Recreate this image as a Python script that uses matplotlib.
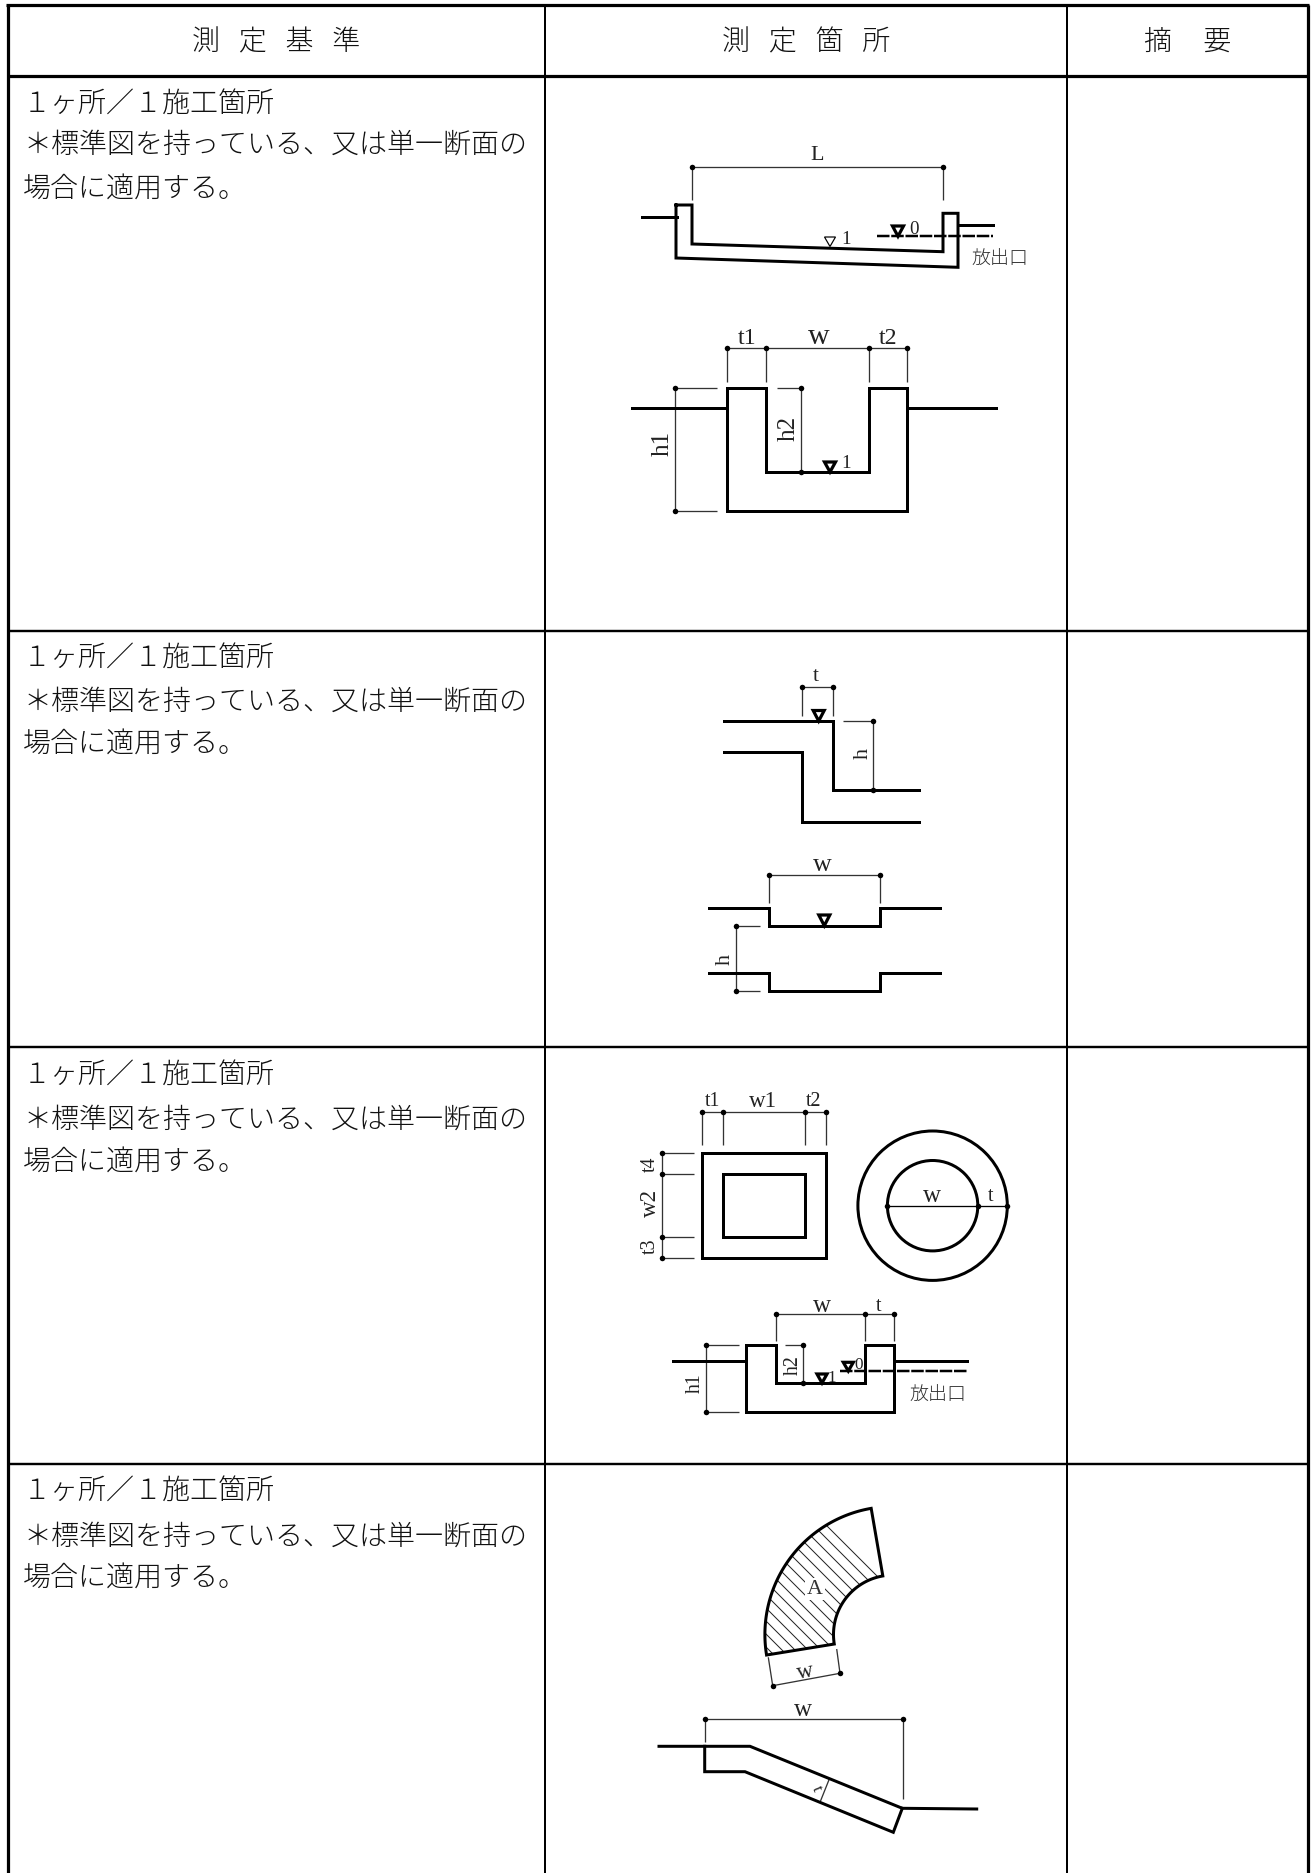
import numpy as np
import matplotlib
matplotlib.use("Agg")
import matplotlib.pyplot as plt
from matplotlib.patches import Polygon, Circle

W, H = 1311, 1874
CJK = ['Noto Sans CJK JP', 'DejaVu Sans']
SERIF = 'Liberation Serif'
PX = 0.72

col_x = [7.5, 545, 1067, 1307.5]
row_y = [5.5, 76.5, 632, 1048, 1464.5]
headers = ['測   定   基   準', '測   定   箇   所', '摘     要']
body_lines = ['１ヶ所／１施工箇所', '＊標準図を持っている、又は単一断面の', '場合に適用する。']
body_y = [[104, 145, 188.5], [658, 702, 744], [1074.5, 1119.5, 1161.5], [1491, 1536.5, 1577.5]]

fig = plt.figure(figsize=(W / 100, H / 100), dpi=100, facecolor='white')
ax = fig.add_axes([0, 0, 1, 1])
ax.set_xlim(0, W)
ax.set_ylim(H, 0)
ax.axis('off')


def heavy(xs, ys, lw=3.0, closed=False, **kw):
    xs, ys = list(xs), list(ys)
    if closed:
        xs.append(xs[0]); ys.append(ys[0])
    ax.plot(xs, ys, color='black', lw=lw * PX, solid_joinstyle='miter',
            solid_capstyle='projecting', zorder=3, **kw)


def thin(x0, y0, x1, y1, lw=1.3, color='#333333'):
    ax.plot([x0, x1], [y0, y1], color=color, lw=lw * PX, solid_capstyle='butt', zorder=2)


def dots(pts):
    ax.plot([p[0] for p in pts], [p[1] for p in pts], 'o', color='black', ms=5.5 * PX, mew=0, zorder=4)


def latin(x, y, s, size=18, rot=0, **kw):
    ax.text(x, y, s, family=SERIF, fontsize=size * PX, rotation=rot, ha='center', va='center',
            color='#222222', zorder=5, **kw)


def cjk(x, y, s, size, ha='center', color='#111111'):
    ax.text(x, y, s, family=CJK, fontsize=size * PX, ha=ha, va='center', color=color,
            fontweight='light', zorder=5)


def tri(x, top, apex, hw=6.5, lw=3.0):
    ax.add_patch(Polygon([(x - hw, top), (x + hw, top), (x, apex)], closed=True, fc='white',
                         ec='black', lw=lw * PX, zorder=4))


def dash_line(x0, x1, y, lw=2.5):
    ax.plot([x0, x1], [y, y], color='black', lw=lw * PX, ls=(0, (5, 0.7)), zorder=3)


# ---------- table ----------
ax.plot([col_x[0], col_x[0]], [row_y[0], H], color='black', lw=3.2 * PX, zorder=1, solid_capstyle='butt')
ax.plot([col_x[-1], col_x[-1]], [row_y[0], H], color='black', lw=3.2 * PX, zorder=1, solid_capstyle='butt')
for x in col_x[1:-1]:
    ax.plot([x, x], [row_y[0], H], color='black', lw=2.0 * PX, zorder=1, solid_capstyle='butt')
ax.plot([col_x[0] - 1.6, col_x[-1] + 1.6], [row_y[0], row_y[0]], color='black', lw=3.2 * PX, zorder=1, solid_capstyle='butt')
ax.plot([col_x[0], col_x[-1]], [row_y[1], row_y[1]], color='black', lw=3.2 * PX, zorder=1, solid_capstyle='butt')
for y in row_y[2:]:
    ax.plot([col_x[0], col_x[-1]], [y, y], color='black', lw=2.4 * PX, zorder=1, solid_capstyle='butt')

for i, h in enumerate(headers):
    cjk((col_x[i] + col_x[i + 1]) / 2, (row_y[0] + row_y[1]) / 2 + 1.5, h, 28)
for ys in body_y:
    for s, y in zip(body_lines, ys):
        cjk(23, y, s, 28, ha='left')

# ---------- drawing 1a ----------
heavy([676, 692, 692, 943, 943, 958, 958, 676], [206, 206, 245, 252.7, 214.3, 214.3, 268.3, 259], closed=True)
heavy([642, 677], [218, 218]); heavy([958, 993], [226.3, 226.3])
dash_line(877, 993, 237.3)
thin(691.7, 167.7, 943, 167.7); thin(691.7, 167.7, 691.7, 201); thin(943, 167.7, 943, 201)
dots([(691.7, 167.7), (943, 167.7)])
latin(817, 155, 'L', 22)
tri(898, 227, 237.3, 5.5, 3.2); latin(914, 229, '0', 19)
tri(830, 238, 247.5, 5.5, 1.2); latin(846, 239, '1', 19)
cjk(1000, 259, '放出口', 19, color='#333333')

# ---------- drawing 1b ----------
heavy([727, 765.7, 765.7, 869.3, 869.3, 907.3, 907.3, 727], [389, 389, 473.3, 473.3, 389, 389, 511.7, 511.7], closed=True)
heavy([632.3, 727], [409.3, 409.3]); heavy([907.3, 995.7], [409.3, 409.3])
for x in (727.3, 765.7, 869.3, 907.3):
    thin(x, 348.7, x, 383)
thin(727.3, 348.7, 907.3, 348.7)
dots([(727.3, 348.7), (765.7, 348.7), (869.3, 348.7), (907.3, 348.7)])
latin(746.7, 338, 't1', 24); latin(819, 337, 'w', 30); latin(888, 338, 't2', 24)
thin(674.7, 389, 674.7, 511.7); thin(674.7, 389, 717.3, 389); thin(674.7, 511.7, 717.3, 511.7)
dots([(674.7, 389), (674.7, 511.7)])
latin(662.3, 443, 'h1', 25, rot=90)
thin(801, 389, 801, 473.3); thin(777.3, 389, 801, 389)
dots([(801, 389), (801, 473.3)])
latin(789, 428, 'h2', 25, rot=90)
tri(830, 463, 473, 5.5, 3.2); latin(846, 464, '1', 19)

# ---------- drawing 2a ----------
heavy([724, 833, 833, 919], [722, 722, 791.3, 791.3])
heavy([724, 801.7, 801.7, 919], [753, 753, 822.7, 822.7])
thin(801.7, 688.3, 833, 688.3); thin(801.7, 688.3, 801.7, 716.7); thin(833, 688.3, 833, 716.7)
dots([(801.7, 688.3), (833, 688.3)])
latin(816, 677, 't', 21)
tri(818.7, 711.5, 722, 5.5, 3.2)
thin(872.7, 722, 872.7, 791.3); thin(842.7, 722, 872.7, 722)
dots([(872.7, 722), (872.7, 791.3)])
latin(863.3, 754, 'h', 22, rot=90)

# ---------- drawing 2b ----------
heavy([709, 768.7, 768.7, 880, 880, 940], [909, 909, 926.7, 926.7, 909, 909])
heavy([709, 768.7, 768.7, 880, 880, 940], [974.3, 974.3, 991.7, 991.7, 974.3, 974.3])
thin(768.7, 875.7, 880, 875.7); thin(768.7, 875.7, 768.7, 904.3); thin(880, 875.7, 880, 904.3)
dots([(768.7, 875.7), (880, 875.7)])
latin(822.7, 865, 'w', 26)
tri(824.3, 916, 926.7, 5.5, 3.2)
thin(735.7, 926.7, 735.7, 991.7); thin(735.7, 926.7, 760, 926.7); thin(735.7, 991.7, 760, 991.7)
dots([(735.7, 926.7), (735.7, 991.7)])
latin(725.7, 959.3, 'h', 22, rot=90)

# ---------- drawing 3a: rectangle + ring ----------
heavy([701.7, 825.7, 825.7, 701.7], [1154, 1154, 1259, 1259], closed=True)
heavy([722.7, 805, 805, 722.7], [1175, 1175, 1237.7, 1237.7], closed=True)
for x in (702, 723, 804.7, 825.7):
    thin(x, 1113.3, x, 1146)
thin(702, 1113.3, 825.7, 1113.3)
dots([(702, 1113.3), (723, 1113.3), (804.7, 1113.3), (825.7, 1113.3)])
latin(712.7, 1101.7, 't1', 20); latin(762.7, 1101.7, 'w1', 23); latin(814, 1101.7, 't2', 20)
thin(661.7, 1154, 661.7, 1259)
for y in (1154, 1175, 1237.7, 1259):
    thin(661.7, y, 694, y)
dots([(661.7, 1154), (661.7, 1175), (661.7, 1237.7), (661.7, 1259)])
latin(650, 1164, 't4', 20, rot=90); latin(650, 1203, 'w2', 23, rot=90); latin(650, 1246.7, 't3', 20, rot=90)
ax.add_patch(Circle((932.6, 1206.7), 74.7, fc='none', ec='black', lw=3 * PX, zorder=3))
ax.add_patch(Circle((932.6, 1206.7), 45.2, fc='none', ec='black', lw=3 * PX, zorder=3))
thin(887.3, 1206.7, 1006.7, 1206.7, color='black')
dots([(887.3, 1206.7), (977.7, 1206.7), (1006.7, 1206.7)])
latin(931.7, 1196, 'w', 25); latin(990.7, 1197, 't', 20)

# ---------- drawing 3b ----------
heavy([746.3, 775.7, 775.7, 864.7, 864.7, 894, 894, 746.3], [1346.3, 1346.3, 1384, 1384, 1346.3, 1346.3, 1412.7, 1412.7], closed=True)
heavy([673.3, 746.3], [1362.3, 1362.3]); heavy([894, 967.3], [1362.3, 1362.3])
dash_line(840, 967.3, 1372)
for x in (775.7, 864.7, 894):
    thin(x, 1315, x, 1341.7)
thin(775.7, 1315, 894, 1315)
dots([(775.7, 1315), (864.7, 1315), (894, 1315)])
latin(822.3, 1306, 'w', 25); latin(879, 1306.7, 't', 20)
thin(706, 1346.3, 706, 1412.7); thin(706, 1346.3, 738.7, 1346.3); thin(706, 1412.7, 738.7, 1412.7)
dots([(706, 1346.3), (706, 1412.7)])
latin(695.7, 1383.3, 'h1', 20, rot=90)
thin(802.7, 1346.3, 802.7, 1384); thin(785, 1346.3, 802.7, 1346.3)
dots([(802.7, 1346.3), (802.7, 1384)])
latin(793.3, 1365, 'h2', 20, rot=90)
tri(822, 1375, 1384, 5, 3.2); latin(831.7, 1377.7, '1', 17)
tri(848.3, 1363.3, 1372, 5, 3.2); latin(858.7, 1365, '0', 17)
cjk(938.3, 1395.7, '放出口', 19, color='#333333')

# ---------- drawing 4a: hatched arc ----------
cx, cy, r_out, r_in = 892.9, 1635.5, 128.0, 59.4
a0 = np.arctan2(1656 - cy, 766.7 - cx)
a1 = np.arctan2(1508.3 - cy, 871 - cx)
if a1 < a0:
    a1 += 2 * np.pi
th = np.linspace(a0, a1, 80)
outer = np.c_[cx + r_out * np.cos(th), cy + r_out * np.sin(th)]
inner = np.c_[cx + r_in * np.cos(th[::-1]), cy + r_in * np.sin(th[::-1])]
sector = Polygon(np.r_[outer, inner], closed=True, fc='none', ec='black', lw=3 * PX, joinstyle='miter', zorder=3)
ax.add_patch(sector)
for c in np.arange(700, 980, 13.0):
    ln, = ax.plot([740, 900], [740 + c, 900 + c], color='#222222', lw=1.0 * PX, zorder=2)
    ln.set_clip_path(sector)
ax.text(815, 1590, 'A', family=SERIF, fontsize=22 * PX, ha='center', va='center', color='#333333', zorder=5,
        bbox=dict(fc='white', ec='none', pad=1.5))
thin(768.3, 1658.3, 772.7, 1686.7); thin(836.7, 1650, 840, 1674.3); thin(772.7, 1686.7, 840, 1674.3)
dots([(772.7, 1686.7), (840, 1674.3)])
latin(805, 1672, 'w', 23, rot=10)

# ---------- drawing 4b ----------
heavy([659, 750, 902.3, 976.7], [1747.3, 1747.3, 1809.3, 1810])
heavy([704.7, 704.7, 745, 893.3, 902.3], [1747.3, 1772.7, 1772.7, 1833.3, 1809.3])
thin(704.7, 1720, 902.7, 1720); thin(704.7, 1720, 704.7, 1743); thin(902.7, 1720, 902.7, 1800)
dots([(704.7, 1720), (902.7, 1720)])
latin(803.3, 1710.5, 'w', 25)
thin(829.3, 1780, 820, 1803.3)
latin(816.7, 1789, 't', 17, rot=-68)

fig.savefig('out.png', dpi=100, facecolor='white')
